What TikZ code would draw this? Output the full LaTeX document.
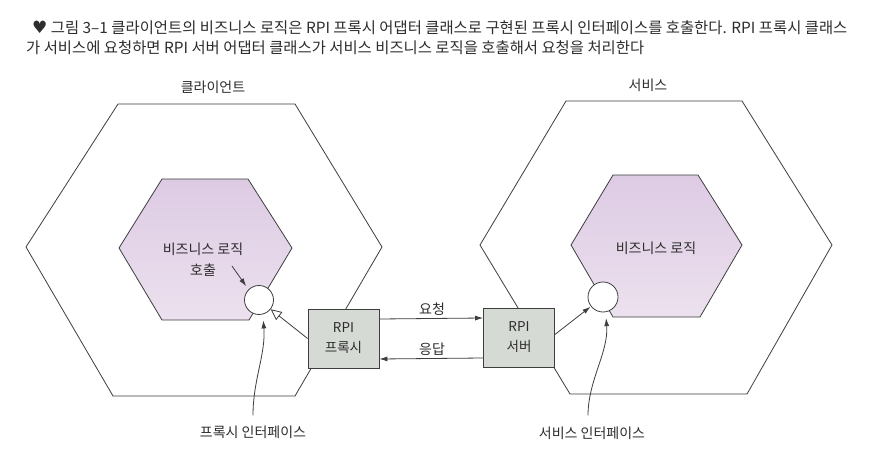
\documentclass[tikz,border=0pt]{standalone}
\usepackage{fontspec}
\setmainfont{Noto Sans CJK KR}
\newfontfamily\symfont{DejaVu Sans}
\usetikzlibrary{arrows.meta}
\definecolor{ln}{RGB}{62,62,62}
\definecolor{txt}{RGB}{45,45,45}
\definecolor{boxfill}{RGB}{214,218,212}
\definecolor{hexTop}{RGB}{221,203,228}
\definecolor{hexBot}{RGB}{236,225,238}
\begin{document}
\begin{tikzpicture}[x=1pt,y=-1pt,
  hexline/.style={draw=ln, line width=0.8pt, line join=miter},
  outerhex/.style={hexline, fill=white},
  innerhex/.style={hexline, top color=hexTop, bottom color=hexBot},
  iface/.style={circle, draw=ln, fill=white, line width=0.8pt, minimum size=29pt, inner sep=0pt},
  adapter/.style={draw=ln, fill=boxfill, line width=0.8pt, minimum width=71pt, minimum height=59pt, align=center, inner sep=0pt, font=\fontsize{13.5}{20}\selectfont, text=txt},
  lbl/.style={font=\fontsize{14}{21}\selectfont, text=txt, inner sep=1pt, align=center},
  captxt/.style={anchor=west, font=\fontsize{15.4}{19}\selectfont, text=txt, inner sep=0pt},
  conn/.style={draw=ln, line width=0.8pt, -{Latex[length=8pt,width=5pt]}},
  realize/.style={draw=ln, line width=0.8pt, -{Triangle[open, length=11pt, width=10pt, fill=white]}}
]
\useasboundingbox (0,0) rectangle (878,460);
\fill[white] (0,0) rectangle (878,460);

% caption
\node[captxt] (cap1) at (32,28) {{\symfont\fontsize{17}{18}\selectfont ♥} 그림 3–1 클라이언트의 비즈니스 로직은 RPI 프록시 어댑터 클래스로 구현된 프록시 인터페이스를 호출한다. RPI 프록시 클래스};
\node[captxt] (cap2) at (26,47.5) {가 서비스에 요청하면 RPI 서버 어댑터 클래스가 서비스 비즈니스 로직을 호출해서 요청을 처리한다};

% hexagon titles
\node[lbl] (tclient) at (213,87) {클라이언트};
\node[lbl] (tservice) at (648,85) {서비스};

% outer hexagons
\draw[outerhex] (118,104) -- (295,104) -- (382,247) -- (295,396) -- (113,396) -- (26,247) -- cycle;
\draw[outerhex] (566,101) -- (742,101) -- (832,245) -- (747,394) -- (570,394) -- (480,245) -- cycle;

% inner hexagons
\draw[innerhex] (162,179) -- (248,179) -- (292,248) -- (249,320) -- (162,320) -- (119,248) -- cycle;
\draw[innerhex] (613,175) -- (698,175) -- (742,245) -- (700,317) -- (613,317) -- (571,245) -- cycle;

% labels in inner hexagons
\node[lbl] (callLbl) at (203,259.5) {비즈니스 로직\\호출};
\node[lbl] (bizR) at (656,248) {비즈니스 로직};

% interface circles
\node[iface] (cl) at (259,300) {};
\node[iface, minimum size=30pt] (cr) at (603,297) {};

% adapter boxes
\node[adapter] (proxy) at (343.5,338.5) {RPI\\프록시};
\node[adapter] (server) at (519,337.5) {RPI\\서버};

% request / response
\draw[conn] ([yshift=19.5pt]proxy.east) -- ([yshift=19.5pt]server.west);
\draw[conn] ([yshift=-20.5pt]server.west) -- ([yshift=-20.5pt]proxy.east);
\node[lbl] (req) at (432,309) {요청};
\node[lbl] (resp) at (432,349) {응답};

% proxy implements interface
\draw[realize] (proxy.west) -- (cl);
% server calls service interface
\draw[conn, shorten >=0.5pt] ([yshift=3pt]server.east) -- (cr);

% business logic call
\coordinate (callfrom) at (232,266);
\draw[conn, shorten >=4pt] (callfrom) -- (cl.135);

% interface labels
\node[lbl] (pi) at (253,432) {프록시 인터페이스};
\node[lbl] (si) at (592,433) {서비스 인터페이스};
\draw[conn, shorten <=9pt, shorten >=6pt] (pi.north) .. controls +(0,-45) and +(3,40) .. (cl.-75);
\draw[conn, shorten <=10pt, shorten >=6pt] ([xshift=-4pt]si.north) .. controls +(0,-45) and +(3,40) .. (cr.-80);
\end{tikzpicture}
\end{document}
